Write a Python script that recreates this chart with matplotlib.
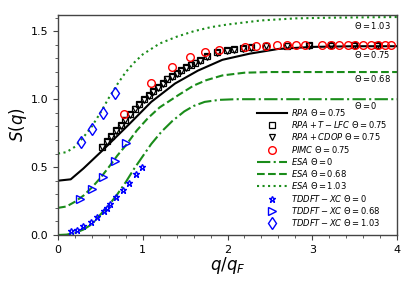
import matplotlib
matplotlib.use("Agg")
import matplotlib.pyplot as plt
import numpy as np

# ---- data ----
q_rpa = [0, 0.15, 0.3, 0.52, 0.83, 1.1, 1.38, 1.65, 1.94, 2.26, 2.6, 3.0, 3.5, 4.0]
s_rpa = [0.40, 0.41, 0.49, 0.62, 0.81, 0.98, 1.115, 1.21, 1.29, 1.335, 1.37, 1.385, 1.39, 1.39]

q_lfc = [0.52, 0.575, 0.63, 0.685, 0.74, 0.795, 0.85, 0.905, 0.96, 1.015, 1.07, 1.125,
         1.18, 1.235, 1.29, 1.345, 1.40, 1.455, 1.51, 1.565, 1.62, 1.67, 1.76, 1.88,
         1.99, 2.08, 2.18, 2.28, 2.46, 2.70, 2.96, 3.22, 3.49, 3.76]
s_lfc = [0.65, 0.69, 0.73, 0.77, 0.81, 0.85, 0.89, 0.93, 0.965, 1.0, 1.03, 1.06,
         1.09, 1.12, 1.15, 1.17, 1.19, 1.215, 1.235, 1.255, 1.27, 1.285, 1.315, 1.345,
         1.36, 1.37, 1.377, 1.383, 1.39, 1.395, 1.397, 1.397, 1.397, 1.397]
q_cdop = q_lfc
s_cdop = [0.645, 0.685, 0.725, 0.765, 0.805, 0.845, 0.885, 0.925, 0.96, 0.995, 1.025, 1.055,
          1.085, 1.115, 1.145, 1.165, 1.185, 1.21, 1.23, 1.25, 1.265, 1.28, 1.31, 1.34,
          1.355, 1.365, 1.373, 1.38, 1.388, 1.393, 1.395, 1.395, 1.395, 1.395]

q_pimc = [0.78, 1.10, 1.345, 1.56, 1.74, 1.90, 2.21, 2.34, 2.46, 2.58, 2.70, 2.81, 2.92,
          3.11, 3.22, 3.32, 3.42, 3.51, 3.60, 3.69, 3.78, 3.86, 3.93]
s_pimc = [0.89, 1.12, 1.24, 1.31, 1.35, 1.365, 1.385, 1.39, 1.395, 1.397, 1.397, 1.397, 1.397,
          1.397, 1.397, 1.397, 1.397, 1.397, 1.397, 1.397, 1.397, 1.397, 1.397]

q_esa0 = [0, 0.1, 0.2, 0.3, 0.4, 0.5, 0.6, 0.7, 0.8, 0.9, 1.0, 1.1, 1.22, 1.35, 1.49, 1.6,
          1.73, 1.9, 2.1, 2.5, 3.0, 4.0]
s_esa0 = [0.0, 0.003, 0.015, 0.04, 0.08, 0.15, 0.22, 0.30, 0.39, 0.49, 0.58, 0.67, 0.76, 0.84,
          0.91, 0.95, 0.98, 0.995, 1.0, 1.0, 1.0, 1.0]

q_esa068 = [0, 0.1, 0.2, 0.3, 0.4, 0.5, 0.6, 0.7, 0.8, 0.93, 1.06, 1.2, 1.42, 1.6, 1.75, 1.94,
            2.2, 2.5, 3.0, 4.0]
s_esa068 = [0.20, 0.21, 0.245, 0.29, 0.35, 0.42, 0.50, 0.585, 0.66, 0.77, 0.86, 0.94, 1.03,
            1.10, 1.14, 1.175, 1.195, 1.20, 1.20, 1.20]

q_esa103 = [0, 0.1, 0.2, 0.3, 0.4, 0.5, 0.6, 0.7, 0.8, 0.9, 1.0, 1.2, 1.4, 1.6, 1.8, 2.0,
            2.4, 2.8, 3.2, 4.0]
s_esa103 = [0.60, 0.61, 0.65, 0.72, 0.80, 0.90, 1.01, 1.11, 1.20, 1.27, 1.33, 1.41, 1.46,
            1.50, 1.53, 1.55, 1.58, 1.595, 1.60, 1.605]

q_td0 = [0.149, 0.227, 0.298, 0.384, 0.455, 0.541, 0.573, 0.612, 0.69, 0.761, 0.839, 0.918, 0.996]
s_td0 = [0.032, 0.037, 0.066, 0.098, 0.135, 0.179, 0.201, 0.228, 0.28, 0.33, 0.385, 0.446, 0.50]

q_td068 = [0.259, 0.396, 0.533, 0.671, 0.80]
s_td068 = [0.262, 0.336, 0.429, 0.546, 0.674]

q_td103 = [0.267, 0.404, 0.533, 0.678]
s_td103 = [0.686, 0.777, 0.902, 1.047]

theta_labels = ["$\\Theta=1.03$", "$\\Theta=0.75$", "$\\Theta=0.68$", "$\\Theta=0$"]
theta_label_y = [1.545, 1.33, 1.153, 0.953]

GREEN = "#1a8c1a"

fig = plt.figure(figsize=(4.15, 2.86), dpi=100)
ax = fig.add_axes([0.1398, 0.1783, 0.8168, 0.7693])

ax.plot(q_rpa, s_rpa, "-", color="black", lw=1.5, label="$RPA\\ \\Theta=0.75$")
ax.plot(q_lfc, s_lfc, "s", color="black", ms=4.5, mfc="none", mew=0.9,
        label="$RPA+T-LFC\\ \\Theta=0.75$")
ax.plot(q_cdop, s_cdop, "v", color="black", ms=4.5, mfc="none", mew=0.9,
        label="$RPA+CDOP\\ \\Theta=0.75$")
ax.plot(q_pimc, s_pimc, "o", color="red", ms=5.5, mfc="none", mew=1.0,
        label="$PIMC\\ \\Theta=0.75$")
ax.plot(q_esa0, s_esa0, "-.", color=GREEN, lw=1.5, label="$ESA\\ \\Theta=0$")
ax.plot(q_esa068, s_esa068, "--", color=GREEN, lw=1.5, label="$ESA\\ \\Theta=0.68$")
ax.plot(q_esa103, s_esa103, ":", color=GREEN, lw=1.5, label="$ESA\\ \\Theta=1.03$")
ax.plot(q_td0, s_td0, "*", color="blue", ms=5, mfc="none", mew=1.0,
        label="$TDDFT-XC\\ \\Theta=0$")
ax.plot(q_td068, s_td068, ">", color="blue", ms=5.5, mfc="none", mew=1.0,
        label="$TDDFT-XC\\ \\Theta=0.68$")
ax.plot(q_td103, s_td103, "d", color="blue", ms=6, mfc="none", mew=1.0,
        label="$TDDFT-XC\\ \\Theta=1.03$")

for t, y in zip(theta_labels, theta_label_y):
    ax.text(3.49, y, t, fontsize=6, ha="left", va="center")

ax.set_xlim(0, 4)
ax.set_ylim(0, 1.62)
ax.set_xticks([0, 1, 2, 3, 4])
ax.set_yticks([0.0, 0.5, 1.0, 1.5])
ax.set_xticks(np.arange(0, 4.01, 0.2), minor=True)
ax.set_yticks(np.arange(0, 1.62, 0.1), minor=True)
ax.tick_params(which="major", labelsize=8, length=3.5, width=0.8, color="#444444")
ax.tick_params(which="minor", length=2, width=0.6, color="#444444")
for sp in ax.spines.values():
    sp.set_color("#444444")
    sp.set_linewidth(1.0)

ax.set_xlabel("$q/q_F$", fontsize=12, labelpad=0)
ax.set_ylabel("$S(q)$", fontsize=12)
ax.yaxis.set_label_coords(-0.085, 0.5)

ax.legend(loc="lower right", bbox_to_anchor=(0.98, 0.02), frameon=False, fontsize=6,
          labelspacing=0.15, handlelength=3.6, handletextpad=0.5, borderpad=0.3,
          borderaxespad=0.0, numpoints=1)

fig.savefig("out.png", dpi=100)
